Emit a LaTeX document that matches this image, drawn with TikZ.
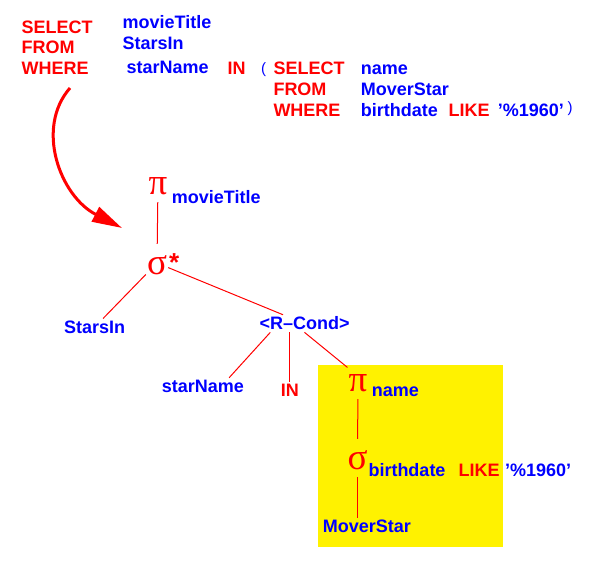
\documentclass[tikz,border=0pt]{standalone}
\usepackage{fontspec}
\setmainfont{Liberation Sans}
\newfontfamily\greekfont{Liberation Serif}
\usetikzlibrary{arrows.meta}

\begin{document}
\begin{tikzpicture}[x=1pt,y=-1pt,
            kw/.style={text=red, font=\bfseries\fontsize{18}{20}\selectfont, anchor=base west, inner sep=2pt},
            attr/.style={text=blue, font=\bfseries\fontsize{18}{20}\selectfont, anchor=base west, inner sep=2pt},
            paren/.style={text=blue, font=\fontsize{15}{16}\selectfont, anchor=base west, inner sep=0pt},
            op/.style={text=red, font=\greekfont\fontsize{37}{37}\selectfont, anchor=base, text height=30pt, text depth=6pt, inner sep=1pt},
            treeLine/.style={red, line width=1pt}]
            \useasboundingbox (0,0) rectangle (614,561);
            \fill[yellow] (318.3,365) rectangle (503.3,547.3);

            \node[kw] (sel1) at (19.5,33.3) {SELECT};
            \node[kw] (frm1) at (19.5,54) {FROM};
            \node[kw] (whr1) at (19.5,75) {WHERE};
            \node[attr] (selAttr) at (120.5,28.3) {movieTitle};
            \node[attr] (fromRel) at (120.5,50) {StarsIn};
            \node[attr] (whrAttr) at (124.5,74) {starName};
            \node[kw] (inKw) at (225.5,75) {IN};
            \node[paren] (lpar) at (261,73.8) {(};
            \node[kw] (sel2) at (271.3,75) {SELECT};
            \node[kw] (frm2) at (271.3,95.7) {FROM};
            \node[kw] (whr2) at (271.3,116.7) {WHERE};
            \node[attr] (subAttr) at (358.7,75) {name};
            \node[attr] (subRel) at (358.7,95.7) {MoverStar};
            \node[attr] (subCond) at (358.7,116.7) {birthdate};
            \node[kw] (likeKw) at (446.3,116.7) {LIKE};
            \node[attr] (patStr) at (495.7,116.7) {'\%1960'};
            \node[paren] (rpar) at (567.5,113) {)};

            \node[op] (piTop) at (158,195) {π};
            \node[attr] (piTopSub) at (169.7,203.3) {movieTitle};
            \node[op] (sigStar) at (157,275) {σ};
            \node[text=red, font=\bfseries\fontsize{26}{26}\selectfont, anchor=base, inner sep=0pt] (sigMark) at (174.3,272) {*};
            \node[attr] (starsIn) at (62,333.3) {StarsIn};
            \node[attr] (rCond) at (257.3,330) {<R--Cond>};
            \node[attr] (starName) at (159.7,392.3) {starName};
            \node[kw] (inOp) at (278.7,396.7) {IN};
            \node[op] (piName) at (358,392) {π};
            \node[attr] (piNameSub) at (369.7,396.5) {name};
            \node[op] (sigBirth) at (357.5,470) {σ};
            \node[attr] (sigBirthSub) at (366.3,476.7) {birthdate};
            \node[kw] (likeOp) at (456.3,476.7) {LIKE};
            \node[attr] (likeStr) at (503,476.7) {'\%1960'};
            \node[attr] (moverStar) at (320.7,532.7) {MoverStar};

            \draw[treeLine] (piTop) -- (sigStar);
            \draw[treeLine] (sigStar) -- (starsIn);
            \draw[treeLine] (sigStar) -- (rCond);
            \draw[treeLine] ([xshift=13pt]rCond.south west) -- ([xshift=-17pt]starName.north east);
            \draw[treeLine] (inOp.north |- rCond.south) -- (inOp.north);
            \draw[treeLine] (rCond.south) -- (piName.130);
            \draw[treeLine] (piName) -- (sigBirth);
            \draw[treeLine] (sigBirth.south) -- (sigBirth.south |- moverStar.north);

            \coordinate (qryArrow) at (70,88);
            \coordinate (treeArrow) at (122,228);
            \draw[red, line width=3pt, -{Triangle[length=30pt,width=16pt]}] (qryArrow) .. controls (35,128) and (60,196) .. (treeArrow);
        \end{tikzpicture}
\end{document}
